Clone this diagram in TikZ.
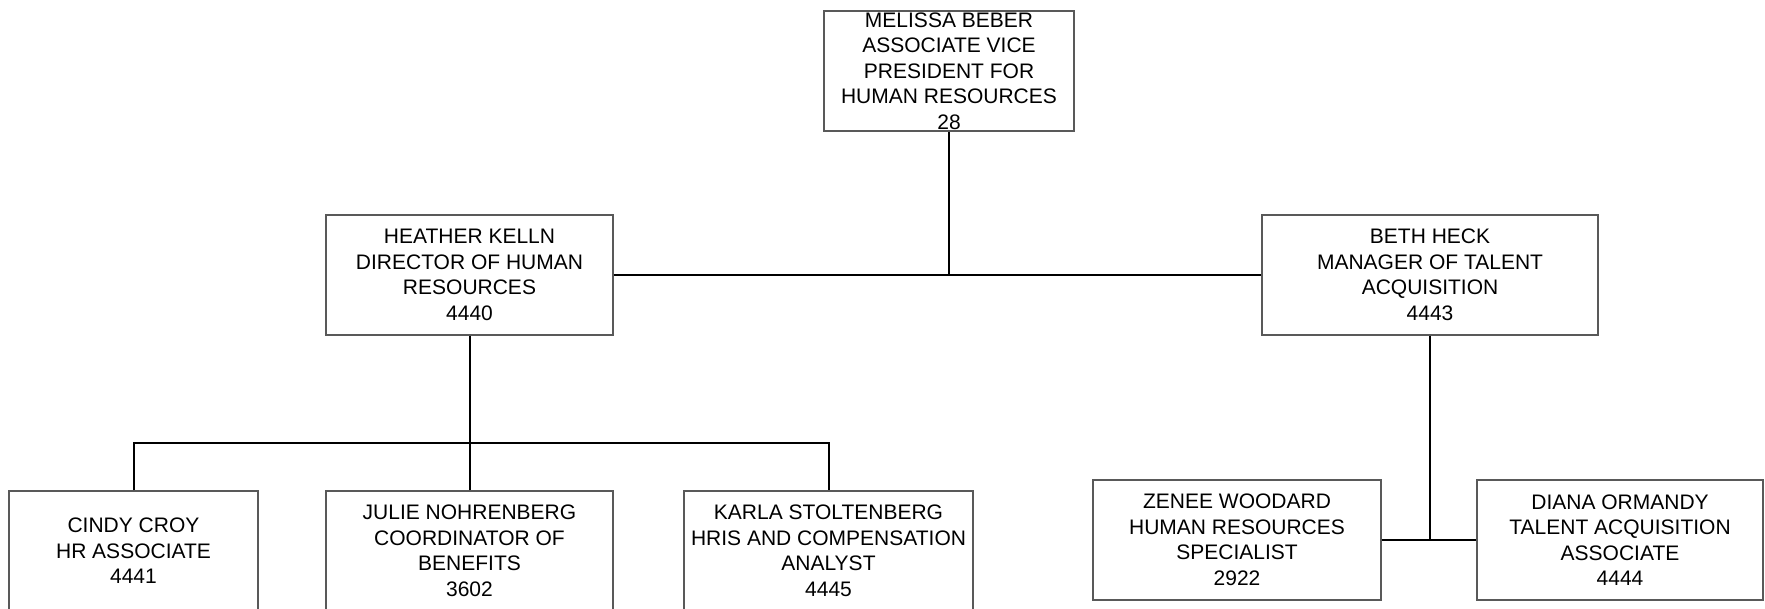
\documentclass[tikz,border=0pt]{standalone}
\usepackage{fontspec}
\setmainfont{Liberation Sans}
\begin{document}
\begin{tikzpicture}[x=0.5pt,y=-0.5pt,
  box/.style={draw=black!65, line width=0.6pt, rectangle, inner sep=0pt, minimum height=60pt},
  txt/.style={align=center, inner sep=0pt, font=\fontsize{10.5pt}{12.75pt}\selectfont},
  conn/.style={draw=black, line width=1pt}]
\useasboundingbox (0,0) rectangle (1765,609);
\clip (0,0) rectangle (1765,609);
\node[box, minimum width=125pt] (top) at (949,71) {};
\node[txt] (toptxt) at (949,71) {MELISSA BEBER\\ASSOCIATE VICE\\PRESIDENT FOR\\HUMAN RESOURCES\\28};
\node[box, minimum width=143.5pt] (heather) at (469.5,275) {};
\node[txt] (heathertxt) at (heather) {HEATHER KELLN\\DIRECTOR OF HUMAN\\RESOURCES\\4440};
\node[box, minimum width=168pt] (beth) at (1430,275) {};
\node[txt] (bethtxt) at (beth) {BETH HECK\\MANAGER OF TALENT\\ACQUISITION\\4443};
\node[box, minimum width=124.5pt] (cindy) at (133.5,551) {};
\node[txt] (cindytxt) at (cindy) {CINDY CROY\\HR ASSOCIATE\\4441};
\node[box, minimum width=143.5pt] (julie) at (469.5,551) {};
\node[txt] (julietxt) at (julie) {JULIE NOHRENBERG\\COORDINATOR OF\\BENEFITS\\3602};
\node[box, minimum width=144.5pt] (karla) at (828.5,551) {};
\node[txt] (karlatxt) at (karla) {KARLA STOLTENBERG\\HRIS AND COMPENSATION\\ANALYST\\4445};
\node[box, minimum width=144pt] (zenee) at (1237,540) {};
\node[txt] (zeneetxt) at (zenee) {ZENEE WOODARD\\HUMAN RESOURCES\\SPECIALIST\\2922};
\node[box, minimum width=143pt] (diana) at (1620,540) {};
\node[txt] (dianatxt) at (diana) {DIANA ORMANDY\\TALENT ACQUISITION\\ASSOCIATE\\4444};
\coordinate (bus) at (469.5,443);
\draw[conn] (heather.east) -- (beth.west);
\draw[conn] (top.south) -- (top.south |- heather.east);
\draw[conn] (heather.south) -- (bus);
\draw[conn] (cindy.north) -- (cindy.north |- bus) -- (karla.north |- bus) -- (karla.north);
\draw[conn] (julie.north) -- (bus);
\draw[conn] (zenee.east) -- (diana.west);
\draw[conn] (beth.south) -- (beth.south |- zenee.east);
\end{tikzpicture}
\end{document}
